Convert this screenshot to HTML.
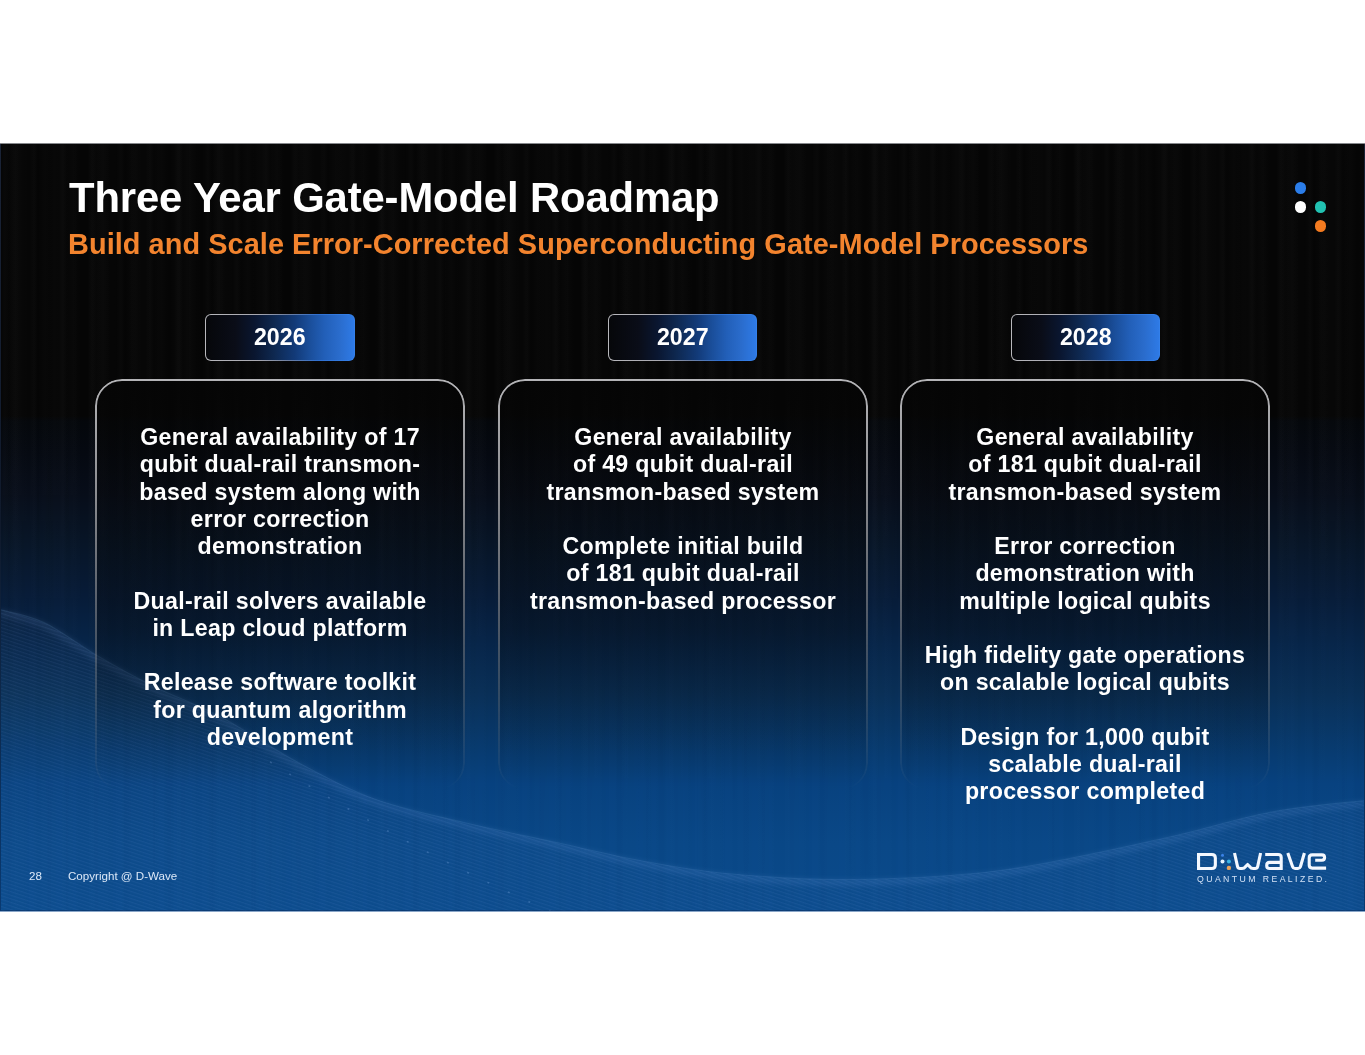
<!DOCTYPE html>
<html><head><meta charset="utf-8">
<style>
html,body{margin:0;padding:0;background:#fff;width:1365px;height:1055px;overflow:hidden}
*{box-sizing:border-box}
#slide{position:absolute;left:0;top:143.5px;width:1365px;height:767.5px;overflow:hidden;
 background:linear-gradient(180deg,#060606 0px,#060606 272px,#05080c 277px,#060a12 310px,#080e1a 350px,#081628 400px,#081c38 450px,#08264a 500px,#0a3058 550px,#083c72 610px,#084280 640px,#0a4888 700px,#0a4a8c 768px);
 font-family:"Liberation Sans",sans-serif;color:#fff}
.t1,.t2,.txt,.foot,.pill span{will-change:transform}
#stripes{position:absolute;left:0;top:0;width:1365px;height:768px;
 background:repeating-linear-gradient(90deg,rgba(255,255,255,0) 0px,rgba(255,255,255,.016) 5px,rgba(0,0,0,.05) 9px,rgba(255,255,255,.012) 16px,rgba(0,0,0,.035) 23px,rgba(255,255,255,0) 29px),
 repeating-linear-gradient(90deg,rgba(0,0,0,0) 0px,rgba(0,0,0,.035) 6px,rgba(255,255,255,.01) 13px,rgba(0,0,0,0) 41px);
 -webkit-mask-image:linear-gradient(180deg,#000 0,#000 300px,rgba(0,0,0,.35) 500px,rgba(0,0,0,.25) 768px)}
#wave{position:absolute;left:0;top:0}
.t1{position:absolute;left:69px;top:33px;font-size:41.8px;line-height:41.8px;font-weight:bold;white-space:nowrap;letter-spacing:-0.13px}
.t2{position:absolute;left:68px;top:86.3px;font-size:28.9px;line-height:28.9px;font-weight:bold;color:#f3842e;white-space:nowrap;letter-spacing:0.06px}
.pill{position:absolute;top:170px;width:149.5px;height:47.5px;border-radius:6px;border:1.2px solid transparent;
 background:linear-gradient(90deg,#06070a 0%,#0a0d18 20%,#0a1630 33%,#0e2850 46%,#123a78 60%,#1a4e9a 70%,#225fb8 80%,#2a6ccc 90%,#2e7ae6 100%) padding-box,
 linear-gradient(90deg,#b8b8bc 0%,#a8a8b0 35%,#7080a0 55%,#3070d0 75%,#3480ea 100%) border-box}
.pill span{position:absolute;left:0;right:0;top:0;text-align:center;font-size:23.2px;line-height:23.2px;font-weight:bold;letter-spacing:0px;top:11px}
.card{position:absolute;top:235.4px;width:370px;height:411.5px;border-radius:27px;
 background:linear-gradient(180deg,rgba(5,5,5,.9) 0%,rgba(5,5,5,.7) 10%,rgba(5,5,5,.5) 20%,rgba(5,5,5,.4) 30%,rgba(5,5,5,.35) 61%,rgba(5,5,5,.2) 76%,rgba(5,5,5,.07) 90%,rgba(5,5,5,0) 100%)}
.card:after{content:"";position:absolute;left:0;top:0;right:0;bottom:0;border-radius:27px;border:2px solid rgba(192,192,196,.94);
 -webkit-mask-image:linear-gradient(180deg,#000 0%,rgba(0,0,0,.76) 28%,rgba(0,0,0,.47) 54%,rgba(0,0,0,.23) 78%,rgba(0,0,0,.07) 95%,rgba(0,0,0,0) 100%)}
.txt{position:absolute;top:280.9px;width:368px;text-align:center;font-size:23.2px;font-weight:bold;line-height:27.25px;letter-spacing:0.3px;white-space:nowrap}
.txt p{margin:0 0 27.25px 0}
.foot{position:absolute;top:726px;font-size:11.6px;line-height:12px;color:#dce8f8;letter-spacing:0}
.dot{position:absolute;width:11.5px;height:11.5px;border-radius:50%}
</style></head><body>
<div id="slide">
 <div id="stripes"></div>
 <svg id="wave" width="1365" height="768" viewBox="0 0 1365 768">
  <defs>
   <pattern id="mesh" width="5" height="3.4" patternUnits="userSpaceOnUse" patternTransform="rotate(18)">
    <rect width="5" height="1.1" fill="rgba(150,190,250,.07)"/>
   </pattern>
   <filter id="bl" x="-5%" y="-50%" width="110%" height="200%"><feGaussianBlur stdDeviation="2.5"/></filter>
  </defs>
  <path d="M0.0,465.5 C7.3,467.7 27.8,470.8 44.0,478.5 C60.2,486.2 78.7,500.8 97.0,511.5 C115.3,522.2 133.5,532.3 154.0,542.5 C174.5,552.7 195.7,559.7 220.0,572.5 C244.3,585.3 274.0,605.7 300.0,619.5 C326.0,633.3 348.7,645.7 376.0,655.5 C403.3,665.3 434.7,671.5 464.0,678.5 C493.3,685.5 522.7,691.2 552.0,697.5 C581.3,703.8 610.8,711.2 640.0,716.5 C669.2,721.8 692.0,726.3 727.0,729.5 C762.0,732.7 804.5,736.0 850.0,735.5 C895.5,735.0 947.8,733.3 1000.0,726.5 C1052.2,719.7 1118.2,704.2 1163.0,694.5 C1207.8,684.8 1235.3,674.8 1269.0,668.5 C1302.7,662.2 1349.0,658.5 1365.0,656.5 L1365,768 L0,768 Z" fill="rgba(110,160,230,.035)"/>
  <path d="M0.0,465.5 C7.3,467.7 27.8,470.8 44.0,478.5 C60.2,486.2 78.7,500.8 97.0,511.5 C115.3,522.2 133.5,532.3 154.0,542.5 C174.5,552.7 195.7,559.7 220.0,572.5 C244.3,585.3 274.0,605.7 300.0,619.5 C326.0,633.3 348.7,645.7 376.0,655.5 C403.3,665.3 434.7,671.5 464.0,678.5 C493.3,685.5 522.7,691.2 552.0,697.5 C581.3,703.8 610.8,711.2 640.0,716.5 C669.2,721.8 692.0,726.3 727.0,729.5 C762.0,732.7 804.5,736.0 850.0,735.5 C895.5,735.0 947.8,733.3 1000.0,726.5 C1052.2,719.7 1118.2,704.2 1163.0,694.5 C1207.8,684.8 1235.3,674.8 1269.0,668.5 C1302.7,662.2 1349.0,658.5 1365.0,656.5 L1365,768 L0,768 Z" fill="url(#mesh)"/>
  <path d="M0.0,465.5 C7.3,467.7 27.8,470.8 44.0,478.5 C60.2,486.2 78.7,500.8 97.0,511.5 C115.3,522.2 133.5,532.3 154.0,542.5 C174.5,552.7 195.7,559.7 220.0,572.5 C244.3,585.3 274.0,605.7 300.0,619.5 C326.0,633.3 348.7,645.7 376.0,655.5 C403.3,665.3 434.7,671.5 464.0,678.5 C493.3,685.5 522.7,691.2 552.0,697.5 C581.3,703.8 610.8,711.2 640.0,716.5 C669.2,721.8 692.0,726.3 727.0,729.5 C762.0,732.7 804.5,736.0 850.0,735.5 C895.5,735.0 947.8,733.3 1000.0,726.5 C1052.2,719.7 1118.2,704.2 1163.0,694.5 C1207.8,684.8 1235.3,674.8 1269.0,668.5 C1302.7,662.2 1349.0,658.5 1365.0,656.5" fill="none" stroke="rgba(140,185,245,.12)" stroke-width="6" filter="url(#bl)" transform="translate(0,3)"/>
  <path d="M0.0,465.5 C7.3,467.7 27.8,470.8 44.0,478.5 C60.2,486.2 78.7,500.8 97.0,511.5 C115.3,522.2 133.5,532.3 154.0,542.5 C174.5,552.7 195.7,559.7 220.0,572.5 C244.3,585.3 274.0,605.7 300.0,619.5 C326.0,633.3 348.7,645.7 376.0,655.5 C403.3,665.3 434.7,671.5 464.0,678.5 C493.3,685.5 522.7,691.2 552.0,697.5 C581.3,703.8 610.8,711.2 640.0,716.5 C669.2,721.8 692.0,726.3 727.0,729.5 C762.0,732.7 804.5,736.0 850.0,735.5 C895.5,735.0 947.8,733.3 1000.0,726.5 C1052.2,719.7 1118.2,704.2 1163.0,694.5 C1207.8,684.8 1235.3,674.8 1269.0,668.5 C1302.7,662.2 1349.0,658.5 1365.0,656.5" fill="none" stroke="rgba(150,195,250,.10)" stroke-width="1.2"/>
  <path d="M256,609 Q400,701 552,768" fill="none" stroke="rgba(170,205,255,.22)" stroke-width="1.6" stroke-dasharray="2 20.6" stroke-dashoffset="6"/>
 </svg>

 <div class="t1">Three Year Gate-Model Roadmap</div>
 <div class="t2">Build and Scale Error-Corrected Superconducting Gate-Model Processors</div>

 <div class="dot" style="left:1294.9px;top:38.8px;background:#2b7de9"></div>
 <div class="dot" style="left:1294.9px;top:57.8px;background:#ffffff"></div>
 <div class="dot" style="left:1314.6px;top:57.8px;background:#22c2b2"></div>
 <div class="dot" style="left:1314.6px;top:76.8px;background:#f47b20"></div>

 <div class="pill" style="left:205px"><span>2026</span></div>
 <div class="pill" style="left:607.5px"><span>2027</span></div>
 <div class="pill" style="left:1010.5px"><span>2028</span></div>

 <div class="card" style="left:94.9px"></div>
 <div class="card" style="left:497.6px"></div>
 <div class="card" style="left:900.1px"></div>

 <div class="txt" style="left:96px">
  <p>General availability of 17<br>qubit dual-rail transmon-<br>based system along with<br>error correction<br>demonstration</p>
  <p>Dual-rail solvers available<br>in Leap cloud platform</p>
  <p>Release software toolkit<br>for quantum algorithm<br>development</p>
 </div>
 <div class="txt" style="left:498.5px">
  <p>General availability<br>of 49 qubit dual-rail<br>transmon-based system</p>
  <p>Complete initial build<br>of 181 qubit dual-rail<br>transmon-based processor</p>
 </div>
 <div class="txt" style="left:901px">
  <p>General availability<br>of 181 qubit dual-rail<br>transmon-based system</p>
  <p>Error correction<br>demonstration with<br>multiple logical qubits</p>
  <p>High fidelity gate operations<br>on scalable logical qubits</p>
  <p>Design for 1,000 qubit<br>scalable dual-rail<br>processor completed</p>
 </div>

 <div class="foot" style="left:29px">28</div>
 <div class="foot" style="left:68px">Copyright @ D-Wave</div>

 <svg style="position:absolute;left:1190px;top:701.5px;will-change:transform" width="145" height="45" viewBox="0 0 145 45">
  <g fill="none" stroke="#f4f8ff" stroke-width="3.1">
   <path d="M8.55,9.55 H21.8 Q25.35,9.55 25.35,13.1 V19.9 Q25.35,23.45 21.8,23.45 H8.55 Z" stroke-linejoin="miter"/>
   <path d="M44.5,8 L47.5,21.4 Q48,23.5 50,23.5 L52,23.5 Q54.3,23.5 55.5,21.6 L57.6,19.5 L59.7,21.6 Q60.9,23.5 63.2,23.5 L65.2,23.5 Q67.2,23.5 67.7,21.4 L70.6,8" stroke-linejoin="round"/>
   <path d="M75.2,9.55 H88.2 Q91.2,9.55 91.2,12.55 V25"/>
   <path d="M91.2,17.4 H79.7 Q76.7,17.4 76.7,20.4 Q76.7,23.45 79.7,23.45 H91.2"/>
   <path d="M97.8,8 L102.6,21.8 Q103.2,23.45 105,23.45 L108,23.45 Q109.8,23.45 110.4,21.8 L114.4,8" stroke-linejoin="round"/>
   <path d="M125.2,15.3 H131.9 Q134.6,15.3 134.6,12.6 Q134.6,9.9 131.9,9.9 H122.2 Q119.2,9.9 119.2,12.9 V20.1 Q119.2,23.1 122.2,23.1 H136.1"/>
  </g>
  <circle cx="32.5" cy="10.3" r="1.5" fill="#3b82e6"/>
  <circle cx="32.5" cy="16.5" r="2" fill="#e6f4ff"/>
  <circle cx="38.9" cy="16.5" r="2" fill="#3bb4e6"/>
  <circle cx="38.9" cy="22.9" r="2.2" fill="#e8a25a"/>
  <text x="7" y="37" font-family="Liberation Sans" font-size="8.7" fill="#d4e2f6" textLength="130" lengthAdjust="spacing">QUANTUM REALIZED.</text>
 </svg>
<div style="position:absolute;left:0;top:0;width:1px;height:768px;background:linear-gradient(180deg,#1a2336,#101a2c 50%,#0a3a72)"></div>
 <div style="position:absolute;right:0;top:0;width:1px;height:768px;background:linear-gradient(180deg,#1a2336,#101a2c 50%,#0a3a72)"></div>
</div>
<div style="position:absolute;left:0;top:143px;width:1365px;height:1px;background:#86888c"></div>
<div style="position:absolute;left:0;top:911px;width:1365px;height:1px;background:#8aa6c8"></div>
<div style="position:absolute;left:1px;top:910px;width:1363px;height:1px;background:rgba(10,30,70,.35)"></div>
</body></html>
